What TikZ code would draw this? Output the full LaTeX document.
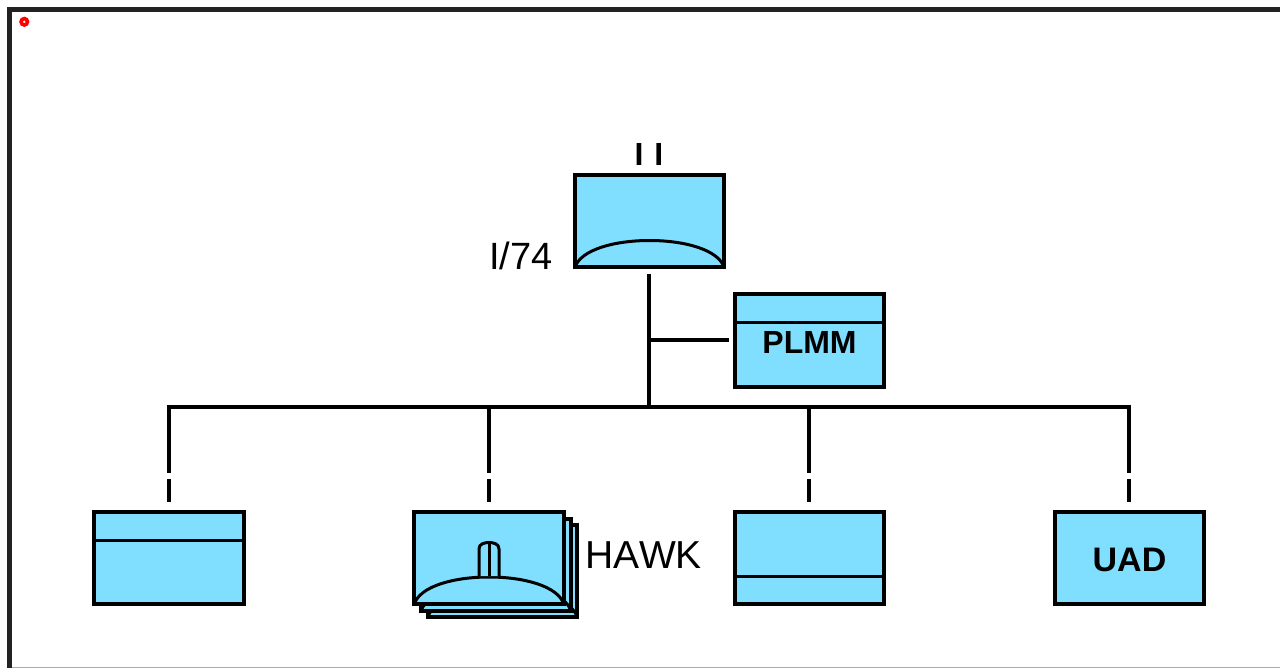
\documentclass[tikz,border=0pt]{standalone}
\usepackage{fontspec}
\setmainfont{Liberation Sans}
\definecolor{boxblue}{HTML}{80DFFF}
\definecolor{framegrey}{HTML}{222222}
\definecolor{edgegrey}{HTML}{AAAAAA}
\newcommand{\domeon}[1]{%
  \begin{scope}[shift={(#1.south west)}]
    \draw[detail] (0,0) .. controls (6,-18) and (40,-27) .. (74.75,-27)
       .. controls (109.5,-27) and (143.5,-18) .. (149.5,0);
  \end{scope}}
\tikzset{
  unitbox/.style={draw=black,fill=boxblue,line width=4pt,rectangle,inner sep=0pt,outer sep=0pt,minimum width=149.5pt,minimum height=92pt,font=\bfseries\fontsize{32}{36}\selectfont},
  detail/.style={draw=black,line width=3pt},
  link/.style={draw=black,line width=4.2pt},
  drop/.style={link,dash pattern=on 66pt off 6pt on 23pt,shorten >=10pt},
  lbl/.style={inner sep=0pt,font=\fontsize{38}{42}\selectfont}
}
\begin{document}
\begin{tikzpicture}[x=1pt,y=-1pt]
\useasboundingbox (0,0) rectangle (1280,668);
\fill[white] (0,0) rectangle (1280,668);
% frame
\draw[edgegrey,line width=1pt] (12,667.5) -- (1280,667.5);
\draw[framegrey,line width=5pt] (9.5,668) -- (9.5,10) -- (1280,10);
\draw[red,line width=3.6pt] (24.3,21.8) circle (3.2);
% boxes
\node[unitbox] (top) at (649.5,221.5) {};
\domeon{top}
\node[unitbox,text height=25pt,text depth=0pt] (plmm) at (809.5,340.5) {PLMM};
\node[unitbox] (c1) at (169,558) {};
\node[unitbox] (c2c) at (502.5,571) {};
\domeon{c2c}
\node[unitbox] (c2b) at (496,564.5) {};
\domeon{c2b}
\node[unitbox] (c2) at (489,558) {};
\domeon{c2}
\node[unitbox] (c3) at (809.5,558) {};
\node[unitbox,font=\bfseries\fontsize{34}{38}\selectfont,text height=26.3pt,text depth=0pt] (c4) at (1129.5,558) {UAD};
% details
\draw[detail] (plmm.north west) ++(0,28) -- ++(149.5,0);
\draw[detail] (c1.north west) ++(0,28) -- ++(149.5,0);
\draw[detail] (c3.south west) ++(0,-28) -- ++(149.5,0);
% antenna
\draw[detail,fill=boxblue] (479,576) -- (479,549) .. controls (479,544) and (484,542.5) .. (489,542.5)
   .. controls (494,542.5) and (499,544) .. (499,549) -- (499,576);
\draw[detail] (489,543) -- (489,576);
% connectors
\coordinate (junction) at (649,407);
\coordinate (tap) at (649,340);
\coordinate (b1) at (169,407);
\coordinate (b2) at (489,407);
\coordinate (b3) at (809,407);
\coordinate (b4) at (1129,407);
\draw[link,shorten <=7pt] (top.south -| junction) -- (junction);
\draw[link,shorten >=6pt] (tap) -- (plmm.west |- tap);
\draw[link] ([xshift=-2pt]b1) -- ([xshift=2pt]b4);
\draw[drop] (b1) -- (c1.north);
\draw[drop] (b2) -- (c2.north);
\draw[drop] (b3) -- (c3.north -| b3);
\draw[drop] (b4) -- (c4.north -| b4);
% labels
\node[lbl] (lia) at (521,256) {I/74};
\node[lbl,font=\fontsize{39}{42}\selectfont\addfontfeatures{Kerning=Off}] (lhawk) at (643.5,555) {HAWK};
\node[inner sep=0pt,font=\bfseries\fontsize{32}{36}\selectfont] (lii) at (649,154.5) {I\hspace{11pt}I};
\end{tikzpicture}
\end{document}
